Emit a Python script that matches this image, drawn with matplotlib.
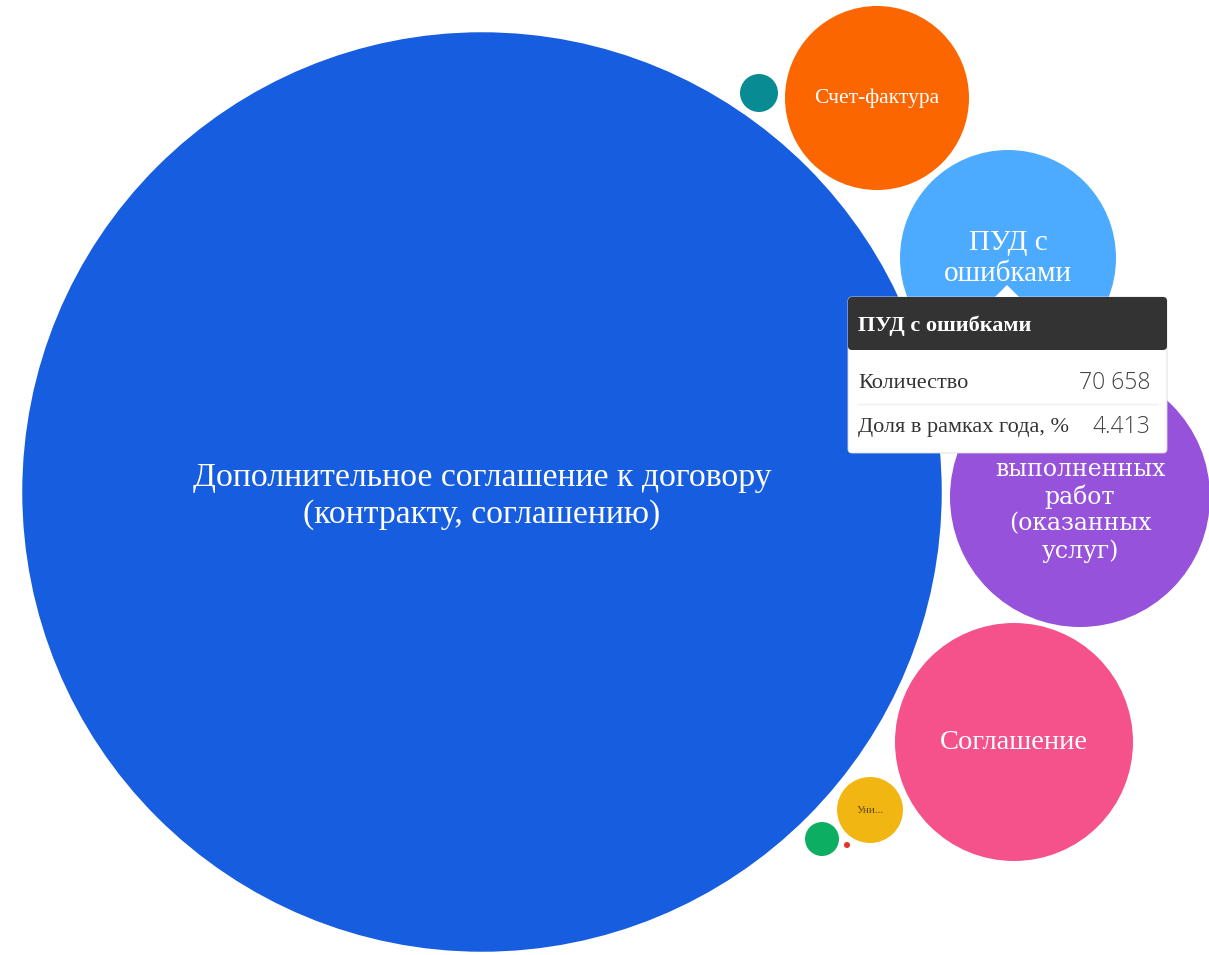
import matplotlib.pyplot as plt
from matplotlib.patches import Circle, FancyBboxPatch, Polygon
import numpy as np

# data
labels = ['Дополнительное соглашение к договору\n(контракту, соглашению)',
          'Счет-фактура',
          'ПУД с ошибками',
          'Акт выполненных работ (оказанных услуг)',
          'Соглашение',
          'Универсальный передаточный документ',
          'Прочие',
          'Договор',
          'Иное']
counts = [1280400, 51275, 70658, 102380, 85785, 6597, 2187, 1751, 55]
colors = ['#165de0', '#fc6600', '#4dabff', '#9652da', '#f5528b',
          '#f2b612', '#088b93', '#0caf62', '#e8322c']
shown = ['Дополнительное соглашение к договору\n(контракту, соглашению)',
         'Счет-фактура', 'ПУД с\nошибками',
         'Акт\nвыполненных\nработ\n(оказанных\nуслуг)',
         'Соглашение', 'Уни...', '', '', '']

# layout (pixel centres of packed bubbles)
centres = [(482, 492), (877, 98), (1008, 258), (1080, 497), (1014, 742),
           (870, 810), (759, 93), (822, 839), (847, 845)]
text_dy = [4, 0, 0, 0, 0, 0, 0, 0, 0]
fsizes = [24.3, 15.5, 21, 17, 20.5, 8, 0, 0, 0]
spacing = [1.25, 1.1, 1.25, 1.2, 1.1, 1.0, 1, 1, 1]
fams = ['Liberation Serif', 'Liberation Serif', 'Liberation Serif', 'DejaVu Serif',
        'Liberation Serif', 'Liberation Serif', None, None, None]

W, H = 1209, 955
fig = plt.figure(figsize=(W / 100, H / 100), dpi=100)
ax = fig.add_axes([0, 0, 1, 1])
ax.set_xlim(0, W)
ax.set_ylim(H, 0)
ax.set_aspect('equal')
ax.axis('off')

total = sum(counts)
k = 108 / np.sqrt(counts[2])
for v, c, (x, y), dy, txt, fs, ls, fam in zip(counts, colors, centres, text_dy, shown,
                                              fsizes, spacing, fams):
    r = k * np.sqrt(v)
    ax.add_patch(Circle((x, y), r, color=c, lw=0))
    if txt:
        tc = '#5a4a10' if txt == 'Уни...' else 'white'
        ax.text(x, y + dy, txt, ha='center', va='center', color=tc, fontsize=fs,
                family=fam, linespacing=ls)

# tooltip for ПУД с ошибками
i = 2
share = counts[i] / total * 100
tx0, ty0, tx1, ty1 = 848, 297, 1167, 453
ax.add_patch(FancyBboxPatch((tx0, ty0), tx1 - tx0, ty1 - ty0,
                            boxstyle='round,pad=0,rounding_size=4',
                            fc='white', ec='#dddddd', lw=0.6, zorder=5))
ax.add_patch(FancyBboxPatch((tx0, ty0), tx1 - tx0, 53,
                            boxstyle='round,pad=0,rounding_size=4',
                            fc='#333333', ec='none', zorder=6))
ax.add_patch(Polygon([(995, ty0), (1019, ty0), (1007, 285)], closed=True,
                     fc='white', ec='none', zorder=6))
ax.text(858, 326, labels[i], color='white', fontsize=16, weight='bold',
        family='Liberation Serif', va='center', zorder=7)
ax.text(858, 383, 'Количество', color='#333333', fontsize=16,
        family='Liberation Serif', va='center', zorder=7)
ax.text(1150, 383, f'{counts[i]:,}'.replace(',', ' '), color='#444444', fontsize=16.5,
        family='Open Sans', weight='light', va='center', ha='right', zorder=7)
ax.plot([858, 1157], [404, 404], color='#eeeeee', lw=1, zorder=7)
ax.text(858, 427, 'Доля в рамках года, %', color='#333333', fontsize=16,
        family='Liberation Serif', va='center', zorder=7)
ax.text(1150, 427, f'{share:.3f}', color='#444444', fontsize=16.5,
        family='Open Sans', weight='light', va='center', ha='right', zorder=7)

fig.savefig('out.png', dpi=100, facecolor='white')
